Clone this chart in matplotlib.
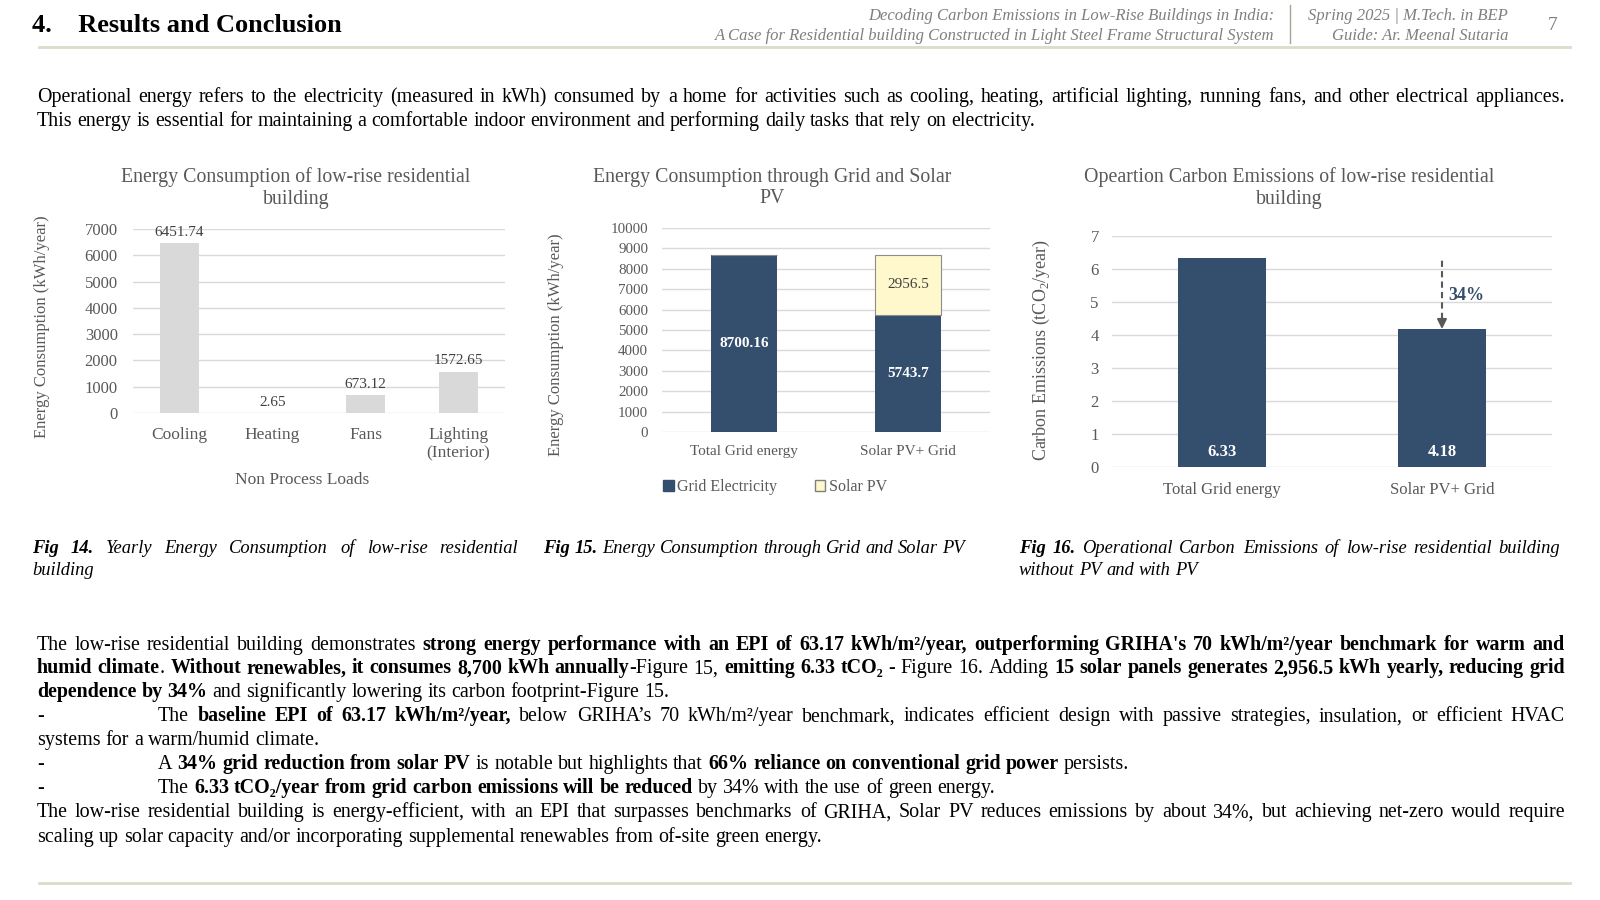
import matplotlib
matplotlib.use('Agg')
import matplotlib.pyplot as plt
from matplotlib.patches import Patch

plt.rcParams['font.family'] = ['Liberation Serif', 'DejaVu Serif']
plt.rcParams['mathtext.fontset'] = 'custom'
plt.rcParams['mathtext.rm'] = 'Liberation Serif'
plt.rcParams['mathtext.bf'] = 'Liberation Serif:bold'

# ---- data ----
loads = ['Cooling', 'Heating', 'Fans', 'Lighting\n(Interior)']
load_kwh = [6451.74, 2.65, 673.12, 1572.65]

scenarios = ['Total Grid energy', 'Solar PV+ Grid']
grid_kwh = [8700.16, 5743.7]
solar_kwh = [0, 2956.5]

co2 = [6.33, 4.18]

NAVY = '#344e6d'
YELLOW = '#fff8cc'
GREY = '#595959'
DARK = '#404040'
GRIDC = '#d9d9d9'
RULE = '#dcdccb'
BODY = 14.4

W, H = 1600, 900
fig = plt.figure(figsize=(16, 9), dpi=100)
r = fig.canvas.get_renderer()


def fx(x):
    return x / W


def fy(y):
    return 1 - y / H


def text_w(s, size, weight='normal', style='normal'):
    t = fig.text(0, 0, s, fontsize=size, fontweight=weight, fontstyle=style)
    w = t.get_window_extent(r).width
    t.remove()
    return w


def draw_line(segs, x0, y, x1=None, size=BODY, style='normal', color='black'):
    # segs: list of (text, bold); justified when x1 is given
    words = [[]]
    for txt, bold in segs:
        parts = txt.split(' ')
        for i, p in enumerate(parts):
            if i > 0:
                words.append([])
            if p:
                words[-1].append((p, bold))
    words = [w for w in words if w]
    widths = [[text_w(p, size, 'bold' if b else 'normal', style) for p, b in w] for w in words]
    total = sum(sum(w) for w in widths)
    if x1 is not None and len(words) > 1:
        gap = (x1 - x0 - total) / (len(words) - 1)
    else:
        gap = text_w('a a', size, style=style) - text_w('aa', size, style=style)
    base = y + 0.32 * size * 100 / 72
    x = x0
    for w, ws in zip(words, widths):
        for (p, b), pw in zip(w, ws):
            fig.text(fx(x), fy(base), p, fontsize=size, fontweight='bold' if b else 'normal',
                     fontstyle=style, color=color, ha='left', va='baseline')
            x += pw
        x += gap


# ---- header ----
fig.text(fx(32), fy(25), '4.    Results and Conclusion', fontsize=19, fontweight='bold',
         ha='left', va='center')
fig.text(fx(1274), fy(16), 'Decoding Carbon Emissions in Low-Rise Buildings in India:',
         fontsize=12, style='italic', color='#7f7f7f', ha='right', va='center')
fig.text(fx(1274), fy(36), 'A Case for Residential building Constructed in Light Steel Frame Structural System',
         fontsize=12, style='italic', color='#7f7f7f', ha='right', va='center')
fig.text(fx(1508), fy(16), 'Spring 2025 | M.Tech. in BEP', fontsize=12, style='italic',
         color='#7f7f7f', ha='right', va='center')
fig.text(fx(1508), fy(36), 'Guide: Ar. Meenal Sutaria', fontsize=12, style='italic',
         color='#7f7f7f', ha='right', va='center')
fig.text(fx(1553), fy(25), '7', fontsize=14, color='#7f7f7f', ha='center', va='center')
fig.add_artist(plt.Line2D([fx(1290), fx(1290)], [fy(5), fy(43)], color='#a5a596', lw=1))
fig.add_artist(plt.Line2D([fx(39), fx(1570)], [fy(47), fy(47)], color=RULE, lw=2))
fig.add_artist(plt.Line2D([fx(39), fx(1570)], [fy(883), fy(883)], color=RULE, lw=2))

# ---- intro paragraph ----
draw_line([('Operational energy refers to the electricity (measured in kWh) consumed by a home for activities '
            'such as cooling, heating, artificial lighting, running fans, and other electrical appliances.', False)],
          37, 96, 1565)
draw_line([('This energy is essential for maintaining a comfortable indoor environment and performing daily '
            'tasks that rely on electricity.', False)], 37, 120)


def style_axes(ax, pad_y, pad_x, ysize, xsize):
    for s in ax.spines.values():
        s.set_visible(False)
    ax.yaxis.grid(True, color=GRIDC, lw=1)
    ax.set_axisbelow(True)
    ax.tick_params(axis='y', length=0, pad=pad_y, labelsize=ysize, labelcolor=GREY)
    ax.tick_params(axis='x', length=0, pad=pad_x, labelsize=xsize, labelcolor=GREY)


# ---- chart 1 ----
ax1 = fig.add_axes([fx(133), fy(413), (505 - 133) / W, (413 - 229) / H])
ax1.bar(range(len(loads)), load_kwh, width=0.41, color='#d9d9d9')
ax1.set_xlim(-0.5, len(loads) - 0.5)
ax1.set_ylim(0, 7000)
ax1.set_yticks(range(0, 7001, 1000))
ax1.set_xticks(range(len(loads)))
ax1.set_xticklabels(loads, linespacing=1.2)
style_axes(ax1, 11, 10, 12, 12.5)
for i, v in enumerate(load_kwh):
    ax1.annotate(f'{v:g}', (i, v), xytext=(0, 3), textcoords='offset points', ha='center',
                 va='bottom', fontsize=11, color=DARK)
fig.text(fx(296), fy(188), 'Energy Consumption of low-rise residential\nbuilding', fontsize=14.3,
         color=GREY, ha='center', va='center', linespacing=1.15)
fig.text(fx(42), fy(327), 'Energy Consumption (kWh/year)', rotation=90, fontsize=12, color=GREY,
         ha='center', va='center')
fig.text(fx(302), fy(480), 'Non Process Loads', fontsize=12.5, color=GREY, ha='center', va='center')

# ---- chart 2 ----
ax2 = fig.add_axes([fx(662), fy(432), (990 - 662) / W, (432 - 228) / H])
ax2.bar(range(2), grid_kwh, width=0.40, color=NAVY, label='Grid Electricity')
ax2.bar(range(2), solar_kwh, bottom=grid_kwh, width=0.40, color=YELLOW, edgecolor='#8c8c8c',
        lw=0.8, label='Solar PV')
ax2.set_xlim(-0.5, 1.5)
ax2.set_ylim(0, 10000)
ax2.set_yticks(range(0, 10001, 1000))
ax2.set_xticks(range(2))
ax2.set_xticklabels(scenarios)
style_axes(ax2, 10, 9.5, 10.8, 11)
for i in range(2):
    ax2.text(i, grid_kwh[i] / 2, f'{grid_kwh[i]:g}', ha='center', va='center', fontsize=11,
             fontweight='bold', color='white')
    if solar_kwh[i] > 0:
        ax2.text(i, grid_kwh[i] + solar_kwh[i] / 2, f'{solar_kwh[i]:g}', ha='center', va='center',
                 fontsize=11, color=DARK)
fig.text(fx(772), fy(188), 'Energy Consumption through Grid and Solar\nPV', fontsize=14.3,
         color=GREY, ha='center', va='center', linespacing=1.15)
fig.text(fx(556), fy(345), 'Energy Consumption (kWh/year)', rotation=90, fontsize=12, color=GREY,
         ha='center', va='center')
fig.legend(handles=[Patch(facecolor=NAVY, edgecolor=NAVY, label='Grid Electricity'),
                    Patch(facecolor=YELLOW, edgecolor='#7f7f7f', label='Solar PV')],
           loc='center', bbox_to_anchor=(fx(775), fy(487)), ncol=2, frameon=False,
           fontsize=11.5, handlelength=0.65, handleheight=0.65, handletextpad=0.2,
           columnspacing=2.4, labelcolor=GREY)

# ---- chart 3 ----
ax3 = fig.add_axes([fx(1112), fy(467), (1552 - 1112) / W, (467 - 236) / H])
ax3.bar(range(2), co2, width=0.40, color=NAVY)
ax3.set_xlim(-0.5, 1.5)
ax3.set_ylim(0, 7)
ax3.set_yticks(range(0, 8))
ax3.set_xticks(range(2))
ax3.set_xticklabels(scenarios)
style_axes(ax3, 9.5, 10.5, 12, 12)
for i, v in enumerate(co2):
    ax3.text(i, 0.45, f'{v:g}', ha='center', va='center', fontsize=12, fontweight='bold',
             color='white')
ax3.vlines(1, co2[1] + 0.3, co2[0], colors=GREY, linestyles=(0, (3, 2)), lw=1.5)
ax3.annotate('', xy=(1, co2[1]), xytext=(1, co2[1] + 0.35),
             arrowprops=dict(arrowstyle='-|>', color=GREY, lw=1.5, mutation_scale=14,
                             shrinkA=0, shrinkB=0))
pct = round((1 - co2[1] / co2[0]) * 100)
ax3.text(1.03, 5.2, f'{pct}%', ha='left', va='center', fontsize=13, fontweight='bold', color=NAVY)
fig.text(fx(1289), fy(188), 'Opeartion Carbon Emissions of low-rise residential\nbuilding',
         fontsize=14.3, color=GREY, ha='center', va='center', linespacing=1.15)
fig.text(fx(1041), fy(350), 'Carbon Emissions (tCO$_2$/year)', rotation=90, fontsize=13,
         color=GREY, ha='center', va='center')

# ---- captions ----
CAP = 13.3
draw_line([('Fig 14.', True), (' Yearly Energy Consumption of low-rise residential', False)],
          32, 547, 518, size=CAP, style='italic')
draw_line([('building', False)], 32, 569, size=CAP, style='italic')
draw_line([('Fig 15.', True), (' Energy Consumption through Grid and Solar PV', False)],
          543, 547, size=CAP, style='italic')
draw_line([('Fig 16.', True), (' Operational Carbon Emissions of low-rise residential building', False)],
          1019, 547, 1560, size=CAP, style='italic')
draw_line([('without PV and with PV', False)], 1019, 569, size=CAP, style='italic')

# ---- conclusion paragraph ----
L, R, IND = 37, 1565, 158
draw_line([('The low-rise residential building demonstrates ', False),
           ("strong energy performance with an EPI of 63.17 kWh/m²/year, outperforming GRIHA's 70 "
            "kWh/m²/year benchmark for warm and", True)], L, 644, R)
draw_line([('humid climate', True), ('. ', False), ('Without renewables, it consumes 8,700 kWh annually', True),
           ('-Figure 15, ', False), ('emitting 6.33 tCO₂', True), (' - Figure 16. Adding ', False),
           ('15 solar panels generates 2,956.5 kWh yearly, reducing grid', True)], L, 667, R)
draw_line([('dependence by 34%', True), (' and significantly lowering its carbon footprint-Figure 15.', False)],
          L, 691)
draw_line([('-', False)], L, 715)
draw_line([('The ', False), ('baseline EPI of 63.17 kWh/m²/year,', True),
           (' below GRIHA’s 70 kWh/m²/year benchmark, indicates efficient design with passive strategies, '
            'insulation, or efficient HVAC', False)], IND, 715, R)
draw_line([('systems for a warm/humid climate.', False)], L, 739)
draw_line([('-', False)], L, 763)
draw_line([('A ', False), ('34% grid reduction from solar PV', True), (' is notable but highlights that ', False),
           ('66% reliance on conventional grid power', True), (' persists.', False)], IND, 763)
draw_line([('-', False)], L, 787)
draw_line([('The ', False), ('6.33 tCO₂/year from grid carbon emissions will be reduced', True),
           (' by 34% with the use of green energy.', False)], IND, 787)
draw_line([('The low-rise residential building is energy-efficient, with an EPI that surpasses benchmarks of '
            'GRIHA, Solar PV reduces emissions by about 34%, but achieving net-zero would require', False)],
          L, 811, R)
draw_line([('scaling up solar capacity and/or incorporating supplemental renewables from of-site green energy.',
            False)], L, 836)

fig.savefig('out.png', dpi=100)
